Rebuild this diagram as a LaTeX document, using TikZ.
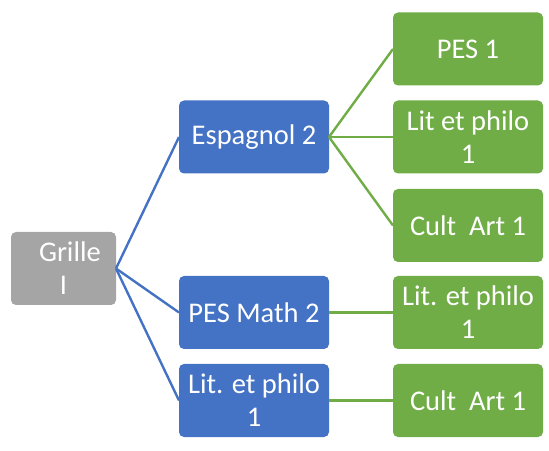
\documentclass[tikz,border=0pt]{standalone}
\usepackage{fontspec}
\setmainfont{Carlito}
\definecolor{cblue}{HTML}{4472C4}
\definecolor{cgreen}{HTML}{70AD47}
\definecolor{cgrey}{HTML}{A5A5A5}
\begin{document}
\begin{tikzpicture}[x=1pt,y=1pt,
  box/.style={rounded corners=5pt, minimum width=150pt, minimum height=73pt, inner sep=0pt, outer sep=0pt, text=white, align=center, font=\fontsize{28.5}{33}\selectfont},
  bluebox/.style={box, fill=cblue},
  greenbox/.style={box, fill=cgreen},
  greybox/.style={box, fill=cgrey, minimum width=105pt},
  bline/.style={draw=cblue, line width=2.4pt},
  gline/.style={draw=cgreen, line width=2.4pt}]
\useasboundingbox (0,0) rectangle (549,450);
\node[greybox] (grille) at (63.5,181.5) {\hspace*{0.45em}Grille\\I};
\node[bluebox] (esp) at (254,313) {Espagnol 2};
\node[bluebox] (pesm) at (254,137.5) {PES Math 2};
\node[bluebox] (litb) at (254,49.5) {Lit. et philo\\1};
\node[greenbox] (pes1) at (468,401) {PES 1};
\node[greenbox] (litg) at (468,313) {Lit et philo\\1};
\node[greenbox] (cult1) at (468,224.5) {Cult\ \ Art 1};
\node[greenbox] (litg2) at (468,137.5) {Lit. et philo\\1};
\node[greenbox] (cult2) at (468,49.5) {Cult\ \ Art 1};
\draw[bline] (grille.east) -- (esp.west);
\draw[bline] (grille.east) -- (pesm.west);
\draw[bline] (grille.east) -- (litb.west);
\draw[gline] (esp.east) -- (pes1.west);
\draw[gline] (esp.east) -- (litg.west);
\draw[gline] (esp.east) -- (cult1.west);
\draw[gline] (pesm.east) -- (litg2.west);
\draw[gline] (litb.east) -- (cult2.west);
\end{tikzpicture}
\end{document}
